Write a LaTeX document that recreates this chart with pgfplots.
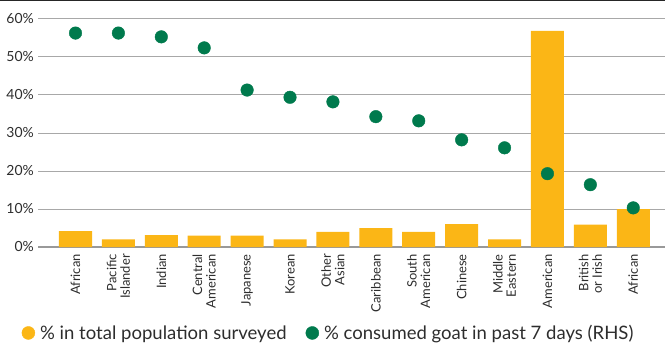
\documentclass[border=0pt]{standalone}
\usepackage{fontspec}
\setmainfont{Lato}
\usepackage{pgfplots}
\pgfplotsset{compat=1.18}
\definecolor{baryel}{RGB}{251,182,22}
\definecolor{dotgrn}{RGB}{0,122,77}
\definecolor{gridgray}{RGB}{168,168,168}
\definecolor{txt}{RGB}{45,45,45}
\begin{document}
\begin{tikzpicture}[x=1bp,y=1bp]
\useasboundingbox (0,0) rectangle (665,344);
\fill[black!85] (0,342.5) rectangle (665,344);
\begin{axis}[
  at={(38bp,97bp)}, anchor=south west, scale only axis,
  width=627bp, height=228bp,
  xmin=-0.874, xmax=13.74, ymin=0, ymax=60,
  axis x line*=bottom, axis y line*=left,
  x axis line style={draw=gray!80, line width=1.5bp},
  y axis line style={draw=none},
  major tick length=0pt,
  ytick={0,10,...,60},
  yticklabel={\pgfmathprintnumber{\tick}\%},
  /pgf/number format/assume math mode=true,
  yticklabel style={font=\fontsize{14}{14}\selectfont, inner xsep=4bp, text=txt},
  ymajorgrids, grid style={gridgray, line width=1bp},
  xtick={0,...,13},
  xticklabels={African,{Pacific\\Islander},Indian,{Central\\American},Japanese,Korean,{Other\\Asian},Caribbean,{South\\American},Chinese,{Middle\\Eastern},American,{British\\or Irish},African},
  xticklabel style={rotate=90, anchor=east, align=right, inner xsep=7bp, inner ysep=0pt, text=txt, font=\fontsize{13}{13.5}\selectfont},
  legend style={at={(-0.026,-0.377)}, anchor=west, draw=none, fill=none,
    inner sep=0pt, outer sep=0pt,
    legend columns=2, font=\fontsize{18.6}{20}\selectfont, text=txt,
    nodes={inner sep=0pt, inner xsep=5bp},
    /tikz/every even column/.append style={column sep=14bp}},
  legend cell align=left,
]
\addplot[ybar, bar width=33bp, fill=baryel, draw=none, forget plot] coordinates {
(0,4.2) (1,2.0) (2,3.1) (3,3.0) (4,3.0) (5,2.0) (6,4.0) (7,5.0) (8,4.0) (9,6.0) (10,2.0) (11,56.9) (12,5.9) (13,10.0)};
\addplot[only marks, mark=*, mark size=6.3bp, color=dotgrn, forget plot] coordinates {
(0,56.3) (1,56.3) (2,55.3) (3,52.4) (4,41.3) (5,39.4) (6,38.2) (7,34.3) (8,33.2) (9,28.2) (10,26.1) (11,19.3) (12,16.4) (13,10.3)};
\addlegendimage{legend image code/.code={\fill[baryel] (6.5bp,0) circle (6.5bp);}}
\addlegendentry{\% in total population surveyed}
\addlegendimage{legend image code/.code={\fill[dotgrn] (6.5bp,0) circle (6.5bp);}}
\addlegendentry{\% consumed goat in past 7 days (RHS)}
\end{axis}
\end{tikzpicture}
\end{document}
